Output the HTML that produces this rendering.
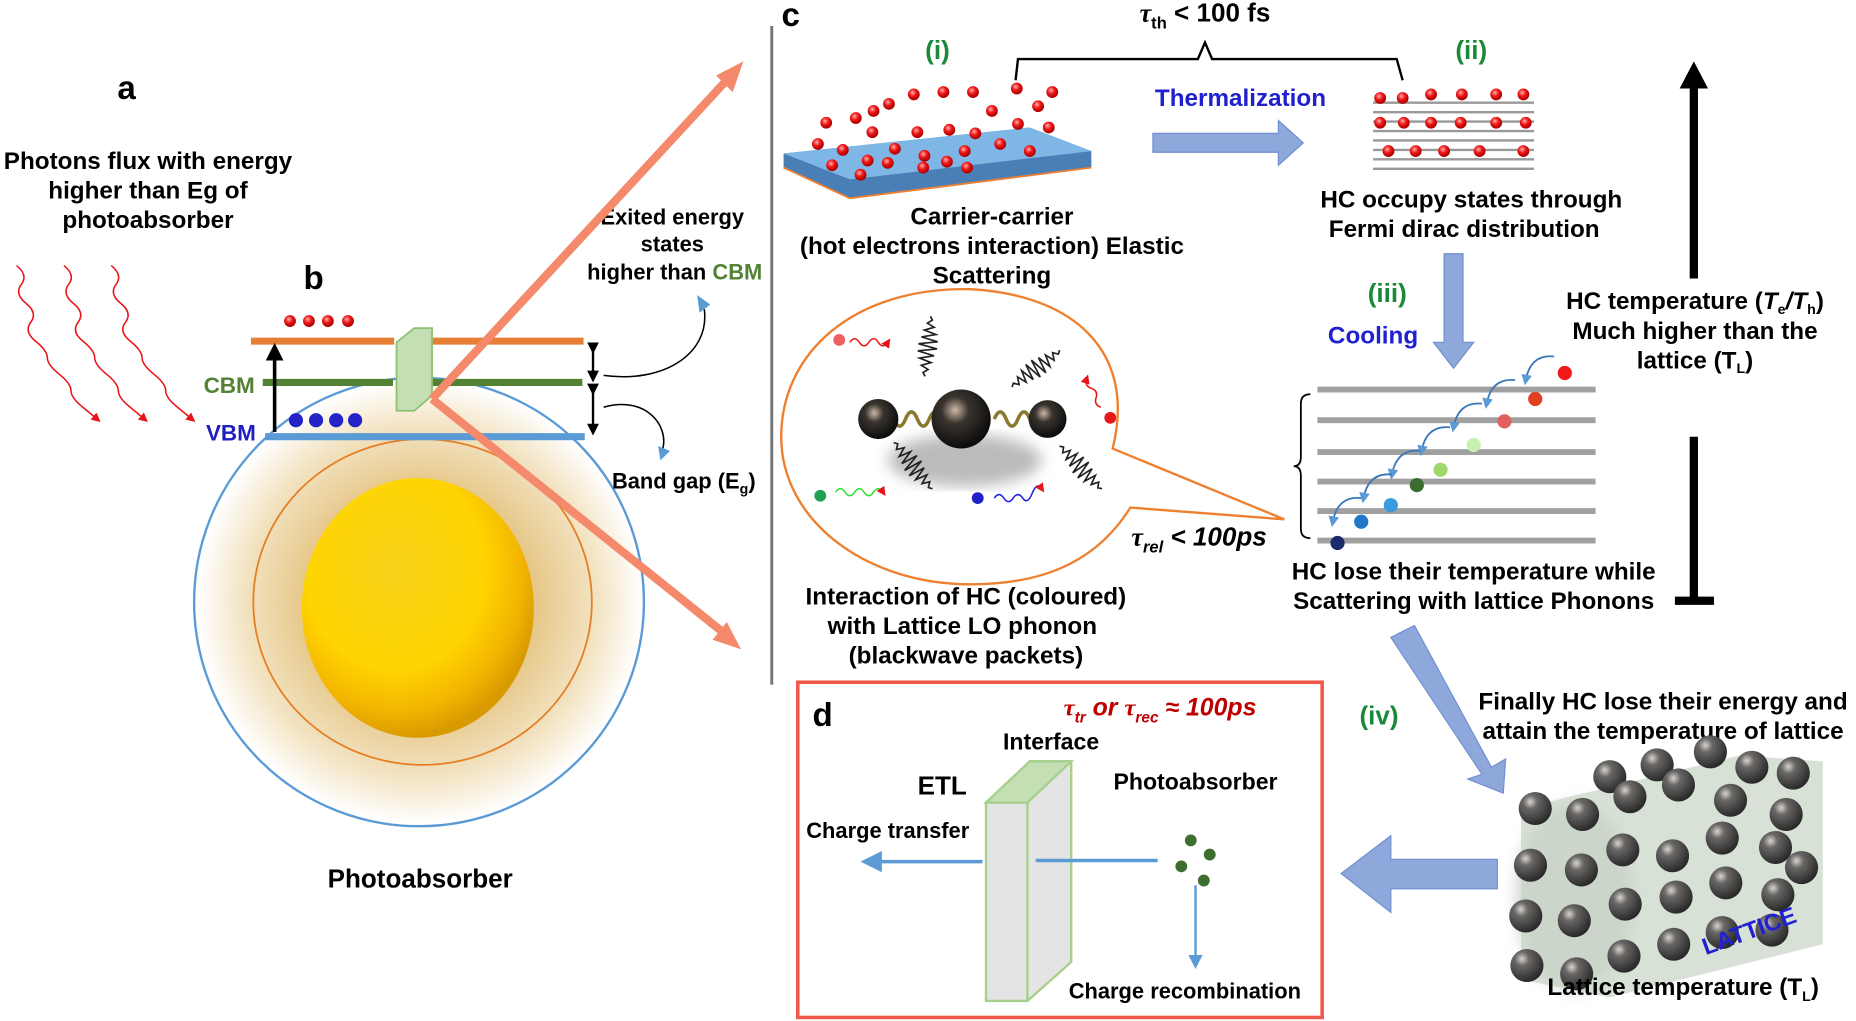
<!DOCTYPE html>
<html><head><meta charset="utf-8">
<style>
html,body{margin:0;padding:0;background:#fff;}
svg{display:block;}
text{font-family:"Liberation Sans",sans-serif;font-weight:bold;}
</style></head><body>
<svg width="1856" height="1021" viewBox="0 0 1568 865" preserveAspectRatio="none" xmlns="http://www.w3.org/2000/svg">
<defs>
<radialGradient id="glow" cx="50%" cy="50%" r="50%">
<stop offset="0.45" stop-color="#e3c07a"/><stop offset="0.8" stop-color="#f3e4c4"/><stop offset="1" stop-color="#fff"/>
</radialGradient>
<radialGradient id="sun" cx="40%" cy="35%" r="65%">
<stop offset="0" stop-color="#f7d21a"/><stop offset="0.6" stop-color="#ffd400"/><stop offset="0.85" stop-color="#f2b400"/><stop offset="1" stop-color="#d99a00"/>
</radialGradient>
<radialGradient id="ball" cx="35%" cy="30%" r="70%">
<stop offset="0" stop-color="#d8d4d0"/><stop offset="0.3" stop-color="#6a6866"/><stop offset="1" stop-color="#2a2a2a"/>
</radialGradient>
<radialGradient id="dball" cx="40%" cy="35%" r="65%">
<stop offset="0" stop-color="#cdb9a6"/><stop offset="0.35" stop-color="#3a342e"/><stop offset="1" stop-color="#0c0c0c"/>
</radialGradient>
<radialGradient id="red" cx="40%" cy="35%" r="60%">
<stop offset="0" stop-color="#ffb0b0"/><stop offset="0.5" stop-color="#f01818"/><stop offset="1" stop-color="#b00000"/>
</radialGradient>
<marker id="ah" markerWidth="6" markerHeight="6" refX="3" refY="3" orient="auto"><path d="M0,0 L6,3 L0,6z" fill="#e8141a"/></marker>
<marker id="ahb" markerWidth="5" markerHeight="5" refX="2.5" refY="2.5" orient="auto"><path d="M0,0 L5,2.5 L0,5z" fill="#000"/></marker>
<marker id="ahblue" markerWidth="6" markerHeight="6" refX="3" refY="3" orient="auto"><path d="M0,0 L6,3 L0,6z" fill="#5b9bd5"/></marker>
<filter id="blur"><feGaussianBlur stdDeviation="6"/></filter>
<path id="pk" d="M0,0 l3,-2 l3,4 l3,-6 l3,8 l3,-10 l3,12 l3,-14 l3,16 l3,-16 l3,16 l3,-14 l3,12 l3,-10 l3,8 l3,-6 l3,4 l3,-2" fill="none" stroke="#222" stroke-width="1.4"/>
</defs>

<!-- panel a -->
<text x="107" y="84" font-size="28" text-anchor="middle">a</text>
<g font-size="20.5" text-anchor="middle">
<text x="125" y="143">Photons flux with energy</text>
<text x="125" y="168">higher than Eg of</text>
<text x="125" y="193">photoabsorber</text>
</g>
<g stroke="#e8141a" stroke-width="1.3" fill="none" marker-end="url(#ah)">
<path d="M14,225 q10,8 4,16 t4,16 t4,16 t4,16 t10,14 t10,14 t10,14 t10,14 l12,10"/>
<path d="M54,225 q10,8 4,16 t4,16 t4,16 t4,16 t10,14 t10,14 t10,14 t10,14 l12,10"/>
<path d="M94,225 q10,8 4,16 t4,16 t4,16 t4,16 t10,14 t10,14 t10,14 t10,14 l12,10"/>
</g>

<!-- panel b -->
<text x="265" y="245" font-size="28" text-anchor="middle">b</text>
<ellipse cx="355" cy="510" rx="188" ry="188" fill="url(#glow)"/>
<circle cx="354" cy="510" r="190" fill="none" stroke="#5b9bd5" stroke-width="2"/>
<ellipse cx="357" cy="510" rx="143" ry="138" fill="none" stroke="#e67e22" stroke-width="1.5"/>
<ellipse cx="353" cy="515" rx="98" ry="110" fill="url(#sun)"/>
<line x1="212" y1="289" x2="333" y2="289" stroke="#e67e35" stroke-width="6"/>
<line x1="362" y1="289" x2="493" y2="289" stroke="#e67e35" stroke-width="6"/>
<line x1="222" y1="324" x2="332" y2="324" stroke="#548235" stroke-width="6"/>
<line x1="362" y1="324" x2="492" y2="324" stroke="#548235" stroke-width="6"/>
<line x1="224" y1="370" x2="494" y2="370" stroke="#5b9bd5" stroke-width="6"/>
<polygon points="335,290 350,278 365,278 365,335 350,348 335,348" fill="#c5dfb4" stroke="#8fbf70" stroke-width="1.5"/>
<line x1="232" y1="366" x2="232" y2="298" stroke="#000" stroke-width="3" marker-end="url(#ahb)"/>
<g fill="url(#red)"><circle cx="245" cy="272" r="5"/><circle cx="261" cy="272" r="5"/><circle cx="277" cy="272" r="5"/><circle cx="294" cy="272" r="5"/></g>
<g fill="#2323c8"><circle cx="250" cy="356" r="6"/><circle cx="267" cy="356" r="6"/><circle cx="284" cy="356" r="6"/><circle cx="300" cy="356" r="6"/></g>
<text x="172" y="333" font-size="19" fill="#548235">CBM</text>
<text x="174" y="373" font-size="19" fill="#2020c0">VBM</text>
<g stroke="#000" stroke-width="2" marker-end="url(#ahb)" marker-start="url(#ahb)">
<line x1="501" y1="295" x2="501" y2="319"/>
<line x1="501" y1="330" x2="501" y2="364"/>
</g>
<path d="M510,318 C560,325 600,300 595,262" fill="none" stroke="#000" stroke-width="1.3"/>
<polygon points="589,250 600,258 591,265" fill="#5b9bd5"/>
<path d="M510,345 C545,335 565,360 560,380" fill="none" stroke="#000" stroke-width="1.3"/>
<polygon points="556,378 566,382 558,390" fill="#5b9bd5"/>
<g font-size="18.5" text-anchor="middle">
<text x="568" y="190">Exited energy</text>
<text x="568" y="213">states</text>
<text x="570" y="237">higher than <tspan fill="#548235">CBM</tspan></text>
</g>
<text x="517" y="414" font-size="18.5">Band gap (E<tspan font-size="12" dy="4">g</tspan><tspan dy="-4">)</tspan></text>
<text x="355" y="752" font-size="22" text-anchor="middle">Photoabsorber</text>
<g stroke="#f4896b" stroke-width="7" fill="none">
<line x1="365" y1="338" x2="612" y2="70"/>
<line x1="365" y1="338" x2="610" y2="535"/>
</g>
<polygon points="628,52 605,64 619,78" fill="#f4896b"/>
<polygon points="626,550 602,542 614,527" fill="#f4896b"/>
<line x1="652" y1="22" x2="652" y2="580" stroke="#777" stroke-width="2.5"/>

<!-- panel c -->
<text x="668" y="22" font-size="28" text-anchor="middle">c</text>
<text x="1018" y="18" font-size="22" text-anchor="middle"><tspan font-family="Liberation Serif" font-style="italic">τ</tspan><tspan font-size="14" dy="6">th</tspan><tspan dy="-6"> &lt; 100 fs</tspan></text>
<path d="M858,68 L860,50 L1012,50 L1018,36 L1024,50 L1180,50 L1185,68" fill="none" stroke="#000" stroke-width="2"/>
<text x="792" y="50" font-size="22" fill="#1a8a3a" text-anchor="middle">(i)</text>
<text x="1243" y="50" font-size="22" fill="#1a8a3a" text-anchor="middle">(ii)</text>
<polygon points="662,130 870,108 922,128 922,142 718,168 662,142" fill="#4a7fb5"/>
<polygon points="662,130 870,108 922,128 718,152" fill="#7eb6e6"/>
<line x1="662" y1="142" x2="718" y2="168" stroke="#f08030" stroke-width="1.5"/>
<line x1="718" y1="168" x2="922" y2="142" stroke="#f08030" stroke-width="1.5"/>
<g fill="url(#red)">
<circle cx="698" cy="104" r="5"/><circle cx="723" cy="100" r="5"/><circle cx="738" cy="94" r="5"/><circle cx="751" cy="88" r="5"/><circle cx="772" cy="80" r="5"/><circle cx="797" cy="78" r="5"/><circle cx="822" cy="78" r="5"/><circle cx="859" cy="75" r="5"/><circle cx="889" cy="78" r="5"/><circle cx="877" cy="90" r="5"/><circle cx="838" cy="94" r="5"/><circle cx="691" cy="122" r="5"/><circle cx="712" cy="127" r="5"/><circle cx="737" cy="112" r="5"/><circle cx="756" cy="126" r="5"/><circle cx="775" cy="112" r="5"/><circle cx="802" cy="110" r="5"/><circle cx="824" cy="113" r="5"/><circle cx="860" cy="105" r="5"/><circle cx="886" cy="108" r="5"/><circle cx="703" cy="140" r="5"/><circle cx="733" cy="136" r="5"/><circle cx="750" cy="138" r="5"/><circle cx="781" cy="132" r="5"/><circle cx="800" cy="137" r="5"/><circle cx="815" cy="128" r="5"/><circle cx="845" cy="122" r="5"/><circle cx="870" cy="128" r="5"/><circle cx="727" cy="148" r="5"/><circle cx="780" cy="142" r="5"/><circle cx="817" cy="142" r="5"/>
</g>
<text x="1048" y="90" font-size="20.5" fill="#2020d0" text-anchor="middle">Thermalization</text>
<polygon points="974,113 1080,113 1080,102 1101,121 1080,140 1080,129 974,129" fill="#8fa8dc" stroke="#6f8fd0"/>
<g stroke="#999" stroke-width="2">
<line x1="1160" y1="87" x2="1296" y2="87"/><line x1="1160" y1="95" x2="1296" y2="95"/><line x1="1160" y1="103" x2="1296" y2="103"/><line x1="1160" y1="111" x2="1296" y2="111"/><line x1="1160" y1="119" x2="1296" y2="119"/><line x1="1160" y1="127" x2="1296" y2="127"/><line x1="1160" y1="135" x2="1296" y2="135"/><line x1="1160" y1="143" x2="1296" y2="143"/>
</g>
<g fill="url(#red)">
<circle cx="1166" cy="83" r="5"/><circle cx="1185" cy="83" r="5"/><circle cx="1209" cy="80" r="5"/><circle cx="1235" cy="80" r="5"/><circle cx="1264" cy="80" r="5"/><circle cx="1287" cy="80" r="5"/>
<circle cx="1166" cy="104" r="5"/><circle cx="1186" cy="104" r="5"/><circle cx="1209" cy="104" r="5"/><circle cx="1234" cy="104" r="5"/><circle cx="1264" cy="104" r="5"/><circle cx="1289" cy="104" r="5"/>
<circle cx="1173" cy="128" r="5"/><circle cx="1196" cy="128" r="5"/><circle cx="1220" cy="128" r="5"/><circle cx="1250" cy="128" r="5"/><circle cx="1287" cy="128" r="5"/>
</g>
<g font-size="20.5" text-anchor="middle">
<text x="1243" y="176">HC occupy states through</text>
<text x="1237" y="201">Fermi dirac distribution</text>
<text x="838" y="190">Carrier-carrier</text>
<text x="838" y="215">(hot electrons interaction) Elastic</text>
<text x="838" y="240">Scattering</text>
</g>
<text x="1172" y="256" font-size="22" fill="#1a8a3a" text-anchor="middle">(iii)</text>
<text x="1160" y="291" font-size="20.5" fill="#2020d0" text-anchor="middle">Cooling</text>
<polygon points="1220,215 1236,215 1236,290 1245,290 1228,312 1211,290 1220,290" fill="#8fa8dc" stroke="#6f8fd0"/>
<g stroke="#a0a0a0" stroke-width="5">
<line x1="1113" y1="330" x2="1348" y2="330"/><line x1="1113" y1="356" x2="1348" y2="356"/><line x1="1113" y1="383" x2="1348" y2="383"/><line x1="1113" y1="408" x2="1348" y2="408"/><line x1="1113" y1="433" x2="1348" y2="433"/><line x1="1113" y1="458" x2="1348" y2="458"/>
</g>
<path d="M1107,334 q-8,0 -8,8 v45 q0,8 -6,8 q6,0 6,8 v45 q0,8 8,8" fill="none" stroke="#000" stroke-width="1.5"/>
<g fill="none" stroke="#3a78b8" stroke-width="1.5" marker-end="url(#ahblue)">
<path d="M1313,302 q-20,-2 -24,20"/><path d="M1280,322 q-20,-2 -24,20"/><path d="M1252,342 q-20,-2 -24,20"/><path d="M1225,362 q-20,-2 -24,20"/><path d="M1200,382 q-20,-2 -24,20"/><path d="M1176,402 q-20,-2 -24,20"/><path d="M1150,422 q-20,-2 -24,20"/>
</g>
<circle cx="1322" cy="316" r="6" fill="#f01818"/><circle cx="1297" cy="338" r="6" fill="#e04020"/><circle cx="1271" cy="357" r="6" fill="#e06060"/><circle cx="1245" cy="377" r="6" fill="#c8f0b0"/><circle cx="1217" cy="398" r="6" fill="#9cd86a"/><circle cx="1197" cy="411" r="6" fill="#3c6e30"/><circle cx="1175" cy="428" r="6" fill="#3a9ae0"/><circle cx="1150" cy="442" r="6" fill="#1f78c8"/><circle cx="1130" cy="460" r="6" fill="#1a2a6a"/>
<g font-size="20.5" text-anchor="middle">
<text x="1245" y="491">HC lose their temperature while</text>
<text x="1245" y="516">Scattering with lattice Phonons</text>
<text x="1432" y="262">HC temperature (<tspan font-style="italic">T</tspan><tspan font-size="12" dy="4">e</tspan><tspan dy="-4" font-style="italic">/T</tspan><tspan font-size="12" dy="4">h</tspan><tspan dy="-4">)</tspan></text>
<text x="1432" y="287">Much higher than the</text>
<text x="1432" y="312">lattice (T<tspan font-size="12" dy="4">L</tspan><tspan dy="-4">)</tspan></text>
</g>
<line x1="1431" y1="236" x2="1431" y2="70" stroke="#000" stroke-width="7"/>
<polygon points="1431,52 1419,75 1443,75" fill="#000"/>
<line x1="1431" y1="370" x2="1431" y2="509" stroke="#000" stroke-width="7"/>
<line x1="1415" y1="509" x2="1448" y2="509" stroke="#000" stroke-width="7"/>

<!-- bubble -->
<path d="M1085,440 L940,380 C960,300 910,250 820,245 C720,243 660,300 660,370 C660,440 730,495 820,495 C890,495 930,470 955,430 Z" fill="#fff" stroke="#ee8030" stroke-width="2"/>
<ellipse cx="815" cy="390" rx="65" ry="22" fill="#bbb" filter="url(#blur)"/>
<use href="#pk" transform="translate(786,268) rotate(95)"/>
<use href="#pk" transform="translate(855,328) rotate(-38)"/>
<use href="#pk" transform="translate(755,375) rotate(50)"/>
<use href="#pk" transform="translate(895,378) rotate(45)"/>
<path d="M745,355 q5,-12 10,0 t10,0 t10,0 t10,0 t10,0 M840,355 q5,-12 10,0 t10,0 t10,0 t10,0" fill="none" stroke="#8a7a30" stroke-width="3"/>
<circle cx="742" cy="355" r="17" fill="url(#dball)"/>
<circle cx="812" cy="355" r="25" fill="url(#dball)"/>
<circle cx="885" cy="355" r="16" fill="url(#dball)"/>
<circle cx="709" cy="288" r="5" fill="#f06060"/>
<path d="M718,290 q4,-6 8,0 t8,0 t8,0 t8,0" fill="none" stroke="#e81818" stroke-width="1.3" marker-end="url(#ah)"/>
<circle cx="938" cy="354" r="5" fill="#e81818"/>
<path d="M930,345 q-6,-2 -4,-8 t-4,-8 t-4,-8" fill="none" stroke="#e81818" stroke-width="1.3" marker-end="url(#ah)"/>
<circle cx="693" cy="420" r="5" fill="#20a050"/>
<path d="M706,417 q4,-6 8,0 t8,0 t8,0 t8,0 t8,0" fill="none" stroke="#30e030" stroke-width="1.3" marker-end="url(#ah)"/>
<circle cx="826" cy="422" r="5" fill="#2020c8"/>
<path d="M840,422 q4,-6 8,0 t8,0 t8,0 t8,-4 t8,-4" fill="none" stroke="#2020e0" stroke-width="1.3" marker-end="url(#ah)"/>
<text x="1013" y="462" font-size="22" font-style="italic" text-anchor="middle"><tspan font-family="Liberation Serif">τ</tspan><tspan font-size="14" dy="6">rel</tspan><tspan dy="-6"> &lt; 100ps</tspan></text>
<g font-size="20.5" text-anchor="middle">
<text x="816" y="512">Interaction of HC (coloured)</text>
<text x="813" y="537">with Lattice LO phonon</text>
<text x="816" y="562">(blackwave packets)</text>
</g>

<!-- panel d -->
<rect x="674" y="578" width="443" height="284" fill="none" stroke="#f0584a" stroke-width="3"/>
<text x="695" y="615" font-size="28" text-anchor="middle">d</text>
<text x="980" y="606" font-size="21" font-style="italic" fill="#c00000" text-anchor="middle"><tspan font-family="Liberation Serif">τ</tspan><tspan font-size="13" dy="6">tr</tspan><tspan dy="-6"> or </tspan><tspan font-family="Liberation Serif">τ</tspan><tspan font-size="13" dy="6">rec</tspan><tspan dy="-6"> ≈ 100ps</tspan></text>
<text x="888" y="635" font-size="19.5" text-anchor="middle">Interface</text>
<text x="796" y="673" font-size="22" text-anchor="middle">ETL</text>
<text x="1010" y="669" font-size="19.5" text-anchor="middle">Photoabsorber</text>
<text x="750" y="710" font-size="18.5" text-anchor="middle">Charge transfer</text>
<text x="1001" y="846" font-size="18.5" text-anchor="middle">Charge recombination</text>
<polygon points="833,680 870,645 905,645 905,815 868,848 833,848" fill="#e4e4e4" stroke="#a8d08d" stroke-width="2"/>
<polygon points="833,680 870,645 905,645 868,680" fill="#c5dfb4" stroke="#a8d08d" stroke-width="2"/>
<line x1="868" y1="680" x2="868" y2="848" stroke="#a8d08d" stroke-width="2"/>
<line x1="875" y1="729" x2="978" y2="729" stroke="#5b9bd5" stroke-width="3"/>
<line x1="830" y1="730" x2="736" y2="730" stroke="#5b9bd5" stroke-width="3" marker-end="url(#ahblue)"/>
<line x1="1010" y1="750" x2="1010" y2="815" stroke="#5b9bd5" stroke-width="2" marker-end="url(#ahblue)"/>
<g fill="#3c6e30"><circle cx="1006" cy="712" r="5"/><circle cx="1022" cy="724" r="5"/><circle cx="998" cy="734" r="5"/><circle cx="1017" cy="746" r="5"/></g>

<!-- iv -->
<text x="1165" y="614" font-size="22" fill="#1a8a3a" text-anchor="middle">(iv)</text>
<g font-size="20.5" text-anchor="middle">
<text x="1405" y="601">Finally HC lose their energy and</text>
<text x="1405" y="626">attain the temperature of lattice</text>
</g>
<polygon points="1175,540 1195,530 1260,650 1272,643 1270,672 1240,660 1252,656" fill="#8fa8dc" stroke="#6f8fd0"/>
<polygon points="1265,728 1175,728 1175,708 1133,740 1175,773 1175,753 1265,753" fill="#8fa8dc" stroke="#6f8fd0"/>

<!-- lattice -->
<ellipse cx="1330" cy="760" rx="50" ry="80" fill="#bbb" filter="url(#blur)" opacity="0.6"/>
<polygon points="1285,685 1470,640 1540,645 1540,800 1360,845 1285,830" fill="#c8d4c4" opacity="0.7"/>
<g fill="url(#ball)">
<circle cx="1360" cy="658" r="14"/><circle cx="1400" cy="648" r="14"/><circle cx="1445" cy="637" r="14"/><circle cx="1480" cy="650" r="14"/><circle cx="1515" cy="655" r="14"/>
<circle cx="1297" cy="685" r="14"/><circle cx="1337" cy="690" r="14"/><circle cx="1377" cy="675" r="14"/><circle cx="1418" cy="665" r="14"/><circle cx="1462" cy="678" r="14"/><circle cx="1509" cy="690" r="14"/>
<circle cx="1293" cy="733" r="14"/><circle cx="1336" cy="737" r="14"/><circle cx="1371" cy="720" r="14"/><circle cx="1413" cy="725" r="14"/><circle cx="1455" cy="710" r="14"/><circle cx="1500" cy="718" r="14"/><circle cx="1522" cy="735" r="14"/>
<circle cx="1289" cy="776" r="14"/><circle cx="1330" cy="780" r="14"/><circle cx="1373" cy="766" r="14"/><circle cx="1416" cy="760" r="14"/><circle cx="1458" cy="748" r="14"/><circle cx="1502" cy="758" r="14"/>
<circle cx="1290" cy="818" r="14"/><circle cx="1332" cy="825" r="14"/><circle cx="1372" cy="810" r="14"/><circle cx="1414" cy="800" r="14"/><circle cx="1455" cy="790" r="14"/><circle cx="1497" cy="788" r="14"/>
</g>
<text x="1480" y="795" font-size="20" fill="#2020d0" text-anchor="middle" transform="rotate(-20 1480 795)">LATTICE</text>
<text x="1422" y="843" font-size="20.5" text-anchor="middle">Lattice temperature (T<tspan font-size="12" dy="5">L</tspan><tspan dy="-5">)</tspan></text>
</svg>
</body></html>
